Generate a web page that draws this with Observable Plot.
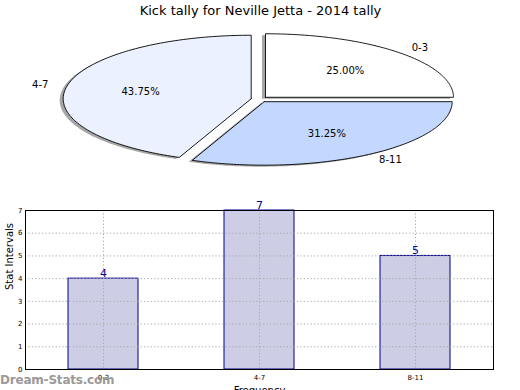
<!DOCTYPE html>
<html>
<head>
<meta charset="utf-8">
<script src="https://cdn.jsdelivr.net/npm/d3@7"></script>
<script src="https://cdn.jsdelivr.net/npm/@observablehq/plot@0.6"></script>
<style>
  body { margin: 0; background: #fff; font-family: "DejaVu Sans", sans-serif; }
  #wrap { position: relative; width: 520px; height: 390px; overflow: hidden; background: #fff; }
  #pie, #bars { position: absolute; left: 0; }
  #pie { top: 0; }
  #bars { top: 200px; }
  #wm { position: absolute; left: 0; top: 373px; font-size: 12px; line-height: 14px; color: #9a9a9a; font-weight: 600; letter-spacing: -0.2px; }
  svg { overflow: visible; }
</style>
</head>
<body>
<div id="wrap">
  <div id="pie"></div>
  <div id="bars"></div>
  <div id="wm"></div>
</div>
<script>
// ---- data ----
const categories = ["0-3", "4-7", "8-11"];
const values = [4, 7, 5];
const pieColors = ["#ffffff", "#ebf1fe", "#c4d7fe"];
const yTicks = [0, 1, 2, 3, 4, 5, 6, 7];
const title = "Kick tally for Neville Jetta - 2014 tally";
const yLabel = "Stat Intervals";
const xLabel = "Frequency";
const watermark = "Dream-Stats.com";

// ---- pie geometry (unit circle, counter-clockwise from 0 rad, projected by the scales) ----
const total = d3.sum(values);
const explode = 0.045;
let cum = 0;
const slices = categories.map((c, i) => {
  const a0 = 2 * Math.PI * cum / total;
  cum += values[i];
  const a1 = 2 * Math.PI * cum / total;
  const mid = (a0 + a1) / 2;
  return {cat: c, value: values[i], a0, a1, mid,
          ox: explode * Math.cos(mid), oy: explode * Math.sin(mid),
          pct: (values[i] / total * 100).toFixed(2) + "%"};
});
const piePts = slices.flatMap(s => {
  const pts = [{cat: s.cat, x: s.ox, y: s.oy}];
  const n = 120;
  for (let k = 0; k <= n; k++) {
    const a = s.a0 + (s.a1 - s.a0) * k / n;
    pts.push({cat: s.cat, x: s.ox + Math.cos(a), y: s.oy + Math.sin(a)});
  }
  pts.push({cat: s.cat, x: s.ox, y: s.oy});
  return pts;
});
const labelPts = slices.map(s => ({
  cat: s.cat, pct: s.pct,
  lx: s.ox + 1.1 * Math.cos(s.mid), ly: s.oy + 1.1 * Math.sin(s.mid),
  px: s.ox + 0.6 * Math.cos(s.mid), py: s.oy + 0.6 * Math.sin(s.mid)
}));

const pie = Plot.plot({
  width: 520, height: 200,
  marginTop: 0, marginRight: 0, marginBottom: 0, marginLeft: 0,
  x: {domain: [-1, 1], range: [71, 447], axis: null},
  y: {domain: [-1, 1], range: [162.3, 35.3], axis: null},
  color: {domain: categories, range: pieColors},
  style: {fontFamily: "DejaVu Sans, sans-serif", background: "transparent"},
  marks: [
    Plot.line(piePts, {x: "x", y: "y", z: "cat", fill: "#4d4d4d", fillOpacity: 0.5, stroke: "none", dx: -3.5, dy: 1.5}),
    Plot.line(piePts, {x: "x", y: "y", z: "cat", fill: "cat", stroke: "#000", strokeWidth: 0.9, strokeLinejoin: "miter"}),
    Plot.text(labelPts.filter(d => d.lx >= 0), {x: "lx", y: "ly", text: "cat", textAnchor: "start", fontSize: 10, fill: "#000"}),
    Plot.text(labelPts.filter(d => d.lx < 0), {x: "lx", y: "ly", text: "cat", textAnchor: "end", fontSize: 10, fill: "#000"}),
    Plot.text(labelPts, {x: "px", y: "py", text: "pct", fontSize: 10, fill: "#000"}),
    Plot.text([title], {frameAnchor: "top", dy: 10, lineAnchor: "middle", fontSize: 13, fill: "#000"})
  ]
});
document.getElementById("pie").appendChild(pie);

// ---- bar chart ----
const barData = categories.map((c, i) => ({cat: c, value: values[i]}));
const bars = Plot.plot({
  width: 520, height: 190,
  marginTop: 10, marginRight: 27, marginBottom: 21, marginLeft: 25,
  x: {domain: categories, paddingInner: 0.55, paddingOuter: 0.275, tickSize: 0, tickPadding: 6, label: null},
  y: {domain: [0, 7], ticks: yTicks, tickSize: 0, tickPadding: 3, label: null, tickFormat: d3.format("d")},
  style: {fontFamily: "DejaVu Sans, sans-serif", fontSize: "7px", background: "transparent", color: "#000"},
  marks: [
    Plot.barY(barData, {x: "cat", y: "value", fill: "#cdcde6", stroke: "#00008b", strokeWidth: 1}),
    Plot.gridY(yTicks, {stroke: "#a8a8a8", strokeOpacity: 1, strokeDasharray: "1.2,2.2", strokeWidth: 1}),
    Plot.gridX(categories, {stroke: "#a8a8a8", strokeOpacity: 1, strokeDasharray: "1.2,2.2", strokeWidth: 1}),
    Plot.text(barData, {x: "cat", y: "value", text: d => String(d.value), dy: -5, fontSize: 11, fill: "#00008b"}),
    Plot.frame({stroke: "#000", strokeWidth: 1}),
    Plot.text([yLabel], {frameAnchor: "left", dx: -16, rotate: -90, fontSize: 10, fill: "#000"}),
    Plot.text([xLabel], {frameAnchor: "bottom", dy: 24, fontSize: 10, fill: "#000"})
  ]
});
document.getElementById("bars").appendChild(bars);
document.getElementById("wm").textContent = watermark;
</script>
</body>
</html>
